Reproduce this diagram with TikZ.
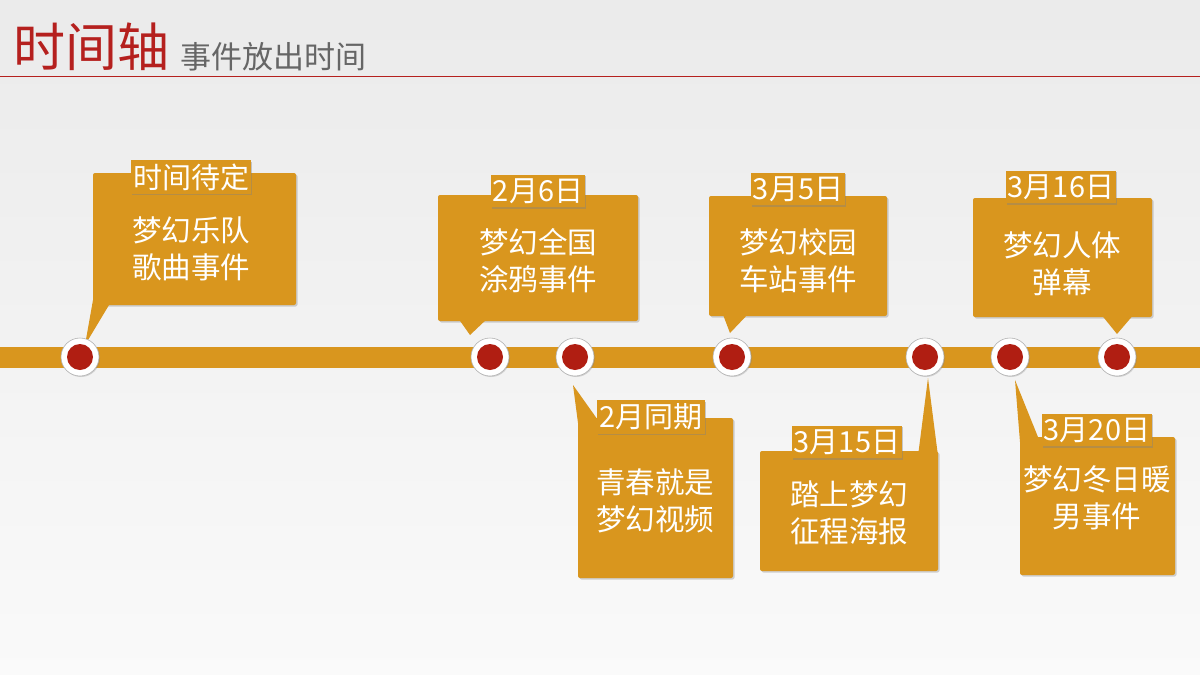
\documentclass[tikz,border=0pt]{standalone}
\usepackage{fontspec}
\newfontfamily\cjk{Noto Sans CJK SC}
\usetikzlibrary{shadows}
\definecolor{org}{HTML}{D9961E}
\definecolor{dred}{HTML}{B01E12}
\definecolor{tred}{HTML}{B5201E}
\tikzset{x=1pt,y=-1pt,
 callout/.style={fill=org,rounded corners=2pt,drop shadow={opacity=0.35,shadow xshift=1.5pt,shadow yshift=-1.5pt}},
 lab/.style={fill=org,text=white,font=\cjk\fontsize{29}{32}\selectfont,inner xsep=2pt,inner ysep=3.5pt,drop shadow={opacity=0.4,shadow xshift=1pt,shadow yshift=-1.5pt}},
 body/.style={text=white,font=\cjk\fontsize{29.5}{37}\selectfont,align=center},
 ring/.style={circle,fill=white,draw=gray!60,line width=0.6pt,minimum size=38pt,inner sep=0pt},
 dot/.style={circle,fill=dred,minimum size=26pt,inner sep=0pt}}
\begin{document}
\begin{tikzpicture}
\useasboundingbox (0,0) rectangle (1200,675);
\shade[top color=gray!16,bottom color=gray!4] (0,0) rectangle (1200,675);
\node[anchor=base west,text=tred,font=\cjk\fontsize{52}{56}\selectfont,inner sep=0] (t) at (13,66) {时间轴};
\node[anchor=base west,text=gray!80!black,font=\cjk\fontsize{31}{34}\selectfont,inner sep=0] (st) at (180,68) {事件放出时间};
\draw[tred,line width=1pt] (0,76) -- (1200,76);
\fill[org] (0,347) rectangle (1200,368);
% callouts
\fill[callout] (93,173) rectangle (296,305);
\fill[org] (93,300) -- (112,300) -- (85,345) -- cycle;
\fill[callout] (438,195) rectangle (638,321);
\fill[org] (458,318) -- (488,318) -- (470,335) -- cycle;
\fill[callout] (578,418) rectangle (733,578);
\fill[org] (578,423) -- (600,423) -- (573,385) -- cycle;
\fill[callout] (709,196) rectangle (887,316);
\fill[org] (722,312) -- (750,312) -- (730,333) -- cycle;
\fill[callout] (760,451) rectangle (938,571);
\fill[org] (918,456) -- (938,456) -- (928,378) -- cycle;
\fill[callout] (973,198) rectangle (1152,317);
\fill[org] (1100,313) -- (1135,313) -- (1117,334) -- cycle;
\fill[callout] (1020,437) rectangle (1175,575);
\fill[org] (1020,442) -- (1040,442) -- (1015,380) -- cycle;
% dots
\foreach \x in {80,490,575,732,925,1010,1117}{
  \node[ring,drop shadow={opacity=0.3,shadow xshift=1pt,shadow yshift=-1pt}] (r\x) at (\x,357) {};
  \node[dot] (d\x) at (r\x) {};}
% labels
\node[lab] (l1) at (191,177) {时间待定};
\node[lab] (l2) at (538,191) {2月6日};
\node[lab] (l3) at (651,417) {2月同期};
\node[lab] (l4) at (798,189) {3月5日};
\node[lab] (l5) at (847,442) {3月15日};
\node[lab] (l6) at (1061,187) {3月16日};
\node[lab] (l7) at (1097,430) {3月20日};
% bodies
\node[body] (b1) at (191,249) {梦幻乐队\\歌曲事件};
\node[body] (b2) at (538,261) {梦幻全国\\涂鸦事件};
\node[body] (b3) at (655,501) {青春就是\\梦幻视频};
\node[body] (b4) at (798,261) {梦幻校园\\车站事件};
\node[body] (b5) at (849,513) {踏上梦幻\\征程海报};
\node[body] (b6) at (1062,264) {梦幻人体\\弹幕};
\node[body] (b7) at (1097,498) {梦幻冬日暖\\男事件};
\end{tikzpicture}
\end{document}
